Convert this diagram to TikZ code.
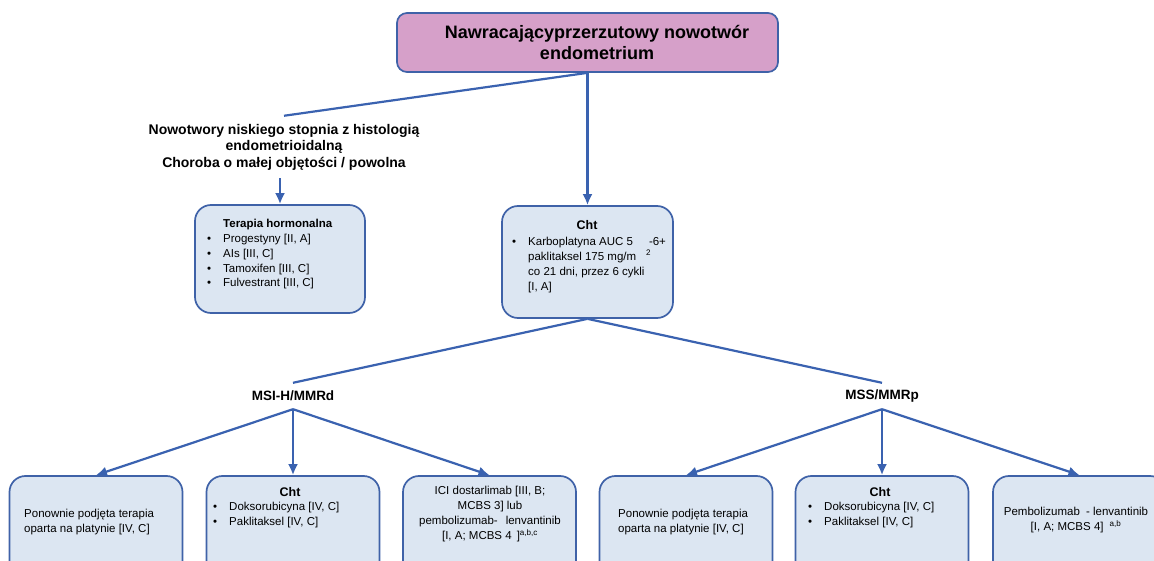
\documentclass[tikz,border=0pt]{standalone}
\usepackage{fontspec}
\setmainfont{Liberation Sans}
\usetikzlibrary{arrows.meta,positioning}

\definecolor{edgeblue}{RGB}{63,98,168}
\definecolor{linkblue}{RGB}{58,98,176}
\definecolor{mauve}{RGB}{214,160,201}
\definecolor{paleblue}{RGB}{220,230,242}

\tikzset{
	titlebox/.style={draw=edgeblue, fill=mauve, line width=1.7pt, rounded corners=10pt, minimum width=381pt, minimum height=59pt},
	txtbox/.style={draw=edgeblue, fill=paleblue, line width=1.7pt, rounded corners=16pt, minimum width=173pt, minimum height=110pt},
	link/.style={draw=linkblue, line width=2.2pt},
	lbl/.style={font=\fontsize{14}{16.5}\selectfont\bfseries, align=center, inner sep=0pt},
	body/.style={font=\fontsize{11.5}{15}\selectfont, inner sep=0pt},
	head/.style={font=\fontsize{12.5}{14}\selectfont\bfseries, inner sep=0pt},
}
\newcommand{\itm}{\makebox[16pt][l]{\textbullet}}

\begin{document}
\begin{tikzpicture}[x=1pt, y=-1pt, >={Latex[length=11pt,width=10pt]}]
		\useasboundingbox (0,0) rectangle (1154,561);
		\clip (0,0) rectangle (1154,561);
		\fill[white] (0,0) rectangle (1154,561);
		
		% top
		\node[titlebox] (top) at (587.5,42.5) {};
		\node[lbl, font=\fontsize{18}{21}\selectfont\bfseries] (toptxt) at (597,42.5) {Nawracającyprzerzutowy nowotwór\\endometrium};
		
		% low grade branch
		\node[lbl, inner sep=8pt] (low) at (284,147) {Nowotwory niskiego stopnia z histologią\\endometrioidalną\\Choroba o małej objętości / powolna};
		\node[txtbox, minimum width=170pt, minimum height=108pt] (horm) at (280,259) {};
		\node[body, align=left, anchor=west, font=\fontsize{11.5}{14.75}\selectfont] (hormtxt) at (207,254.5) {\hspace*{16pt}\textbf{Terapia hormonalna}\\\itm Progestyny [II, A]\\\itm AIs [III, C]\\\itm Tamoxifen [III, C]\\\itm Fulvestrant [III, C]};
		
		% chemo
		\node[txtbox, minimum width=171pt, minimum height=112pt] (cht) at (587.5,262) {};
		\node[head] (chthead) at (587,225) {Cht};
		\node[body, align=left, anchor=west, font=\fontsize{11.5}{15.3}\selectfont] (chttxt) at (512,265) {\itm Karboplatyna AUC 5\hspace{16pt}-6+\\\hspace*{16pt}paklitaksel 175 mg/m\hspace{10pt}\textsuperscript{2}\\\hspace*{16pt}co 21 dni, przez 6 cykli\\\hspace*{16pt}[I, A]};
		
		% split
		\node[lbl, font=\fontsize{13.5}{16}\selectfont\bfseries, minimum height=26pt] (msi) at (293,396) {MSI-H/MMRd};
		\node[lbl, font=\fontsize{13.5}{16}\selectfont\bfseries, minimum height=26pt] (mss) at (882,396) {MSS/MMRp};
		
		% bottom row
		\node[txtbox] (b1) at (96,531) {};
		\node[txtbox] (b2) at (293,531) {};
		\node[txtbox] (b3) at (489.5,531) {};
		\node[txtbox] (b4) at (686,531) {};
		\node[txtbox] (b5) at (882,531) {};
		\node[txtbox] (b6) at (1079.5,531) {};
		
		\node[body, align=left, anchor=west] (b1txt) at (24,522) {Ponownie podjęta terapia\\oparta na platynie [IV, C]};
		\node[head] (b2head) at (290,492) {Cht};
		\node[body, align=left, anchor=west] (b2txt) at (213,515.5) {\itm Doksorubicyna [IV, C]\\\itm Paklitaksel [IV, C]};
		\node[body, align=center] (b3txt) at (490,514.5) {ICI dostarlimab [III, B;\\MCBS 3] lub\\pembolizumab-\hspace{8pt}lenvantinib\\{}[I, A; MCBS 4\hspace{5pt}]\textsuperscript{a,b,c}};
		\node[body, align=left, anchor=west] (b4txt) at (618,522) {Ponownie podjęta terapia\\oparta na platynie [IV, C]};
		\node[head] (b5head) at (880,492) {Cht};
		\node[body, align=left, anchor=west] (b5txt) at (808,515) {\itm Doksorubicyna [IV, C]\\\itm Paklitaksel [IV, C]};
		\node[body, align=center] (b6txt) at (1076,520) {Pembolizumab\hspace{3pt} - lenvantinib\\{}[I, A; MCBS 4]\hspace{6pt}\textsuperscript{a,b}};
		
		% connectors
		\draw[link] (top.south) -- (low.north);
		\draw[->][link] (top.south) -- (cht.north);
		\draw[->][link] (low.south -| horm.north) -- (horm.north);
		\draw[link] (cht.south) -- (msi.north);
		\draw[link] (cht.south) -- (mss.north);
		\foreach \b in {b1,b2,b3}
			\draw[->][link] (msi.south) -- (\b.north);
		\foreach \b in {b4,b5,b6}
			\draw[->][link] (mss.south) -- (\b.north);
	\end{tikzpicture}
\end{document}
